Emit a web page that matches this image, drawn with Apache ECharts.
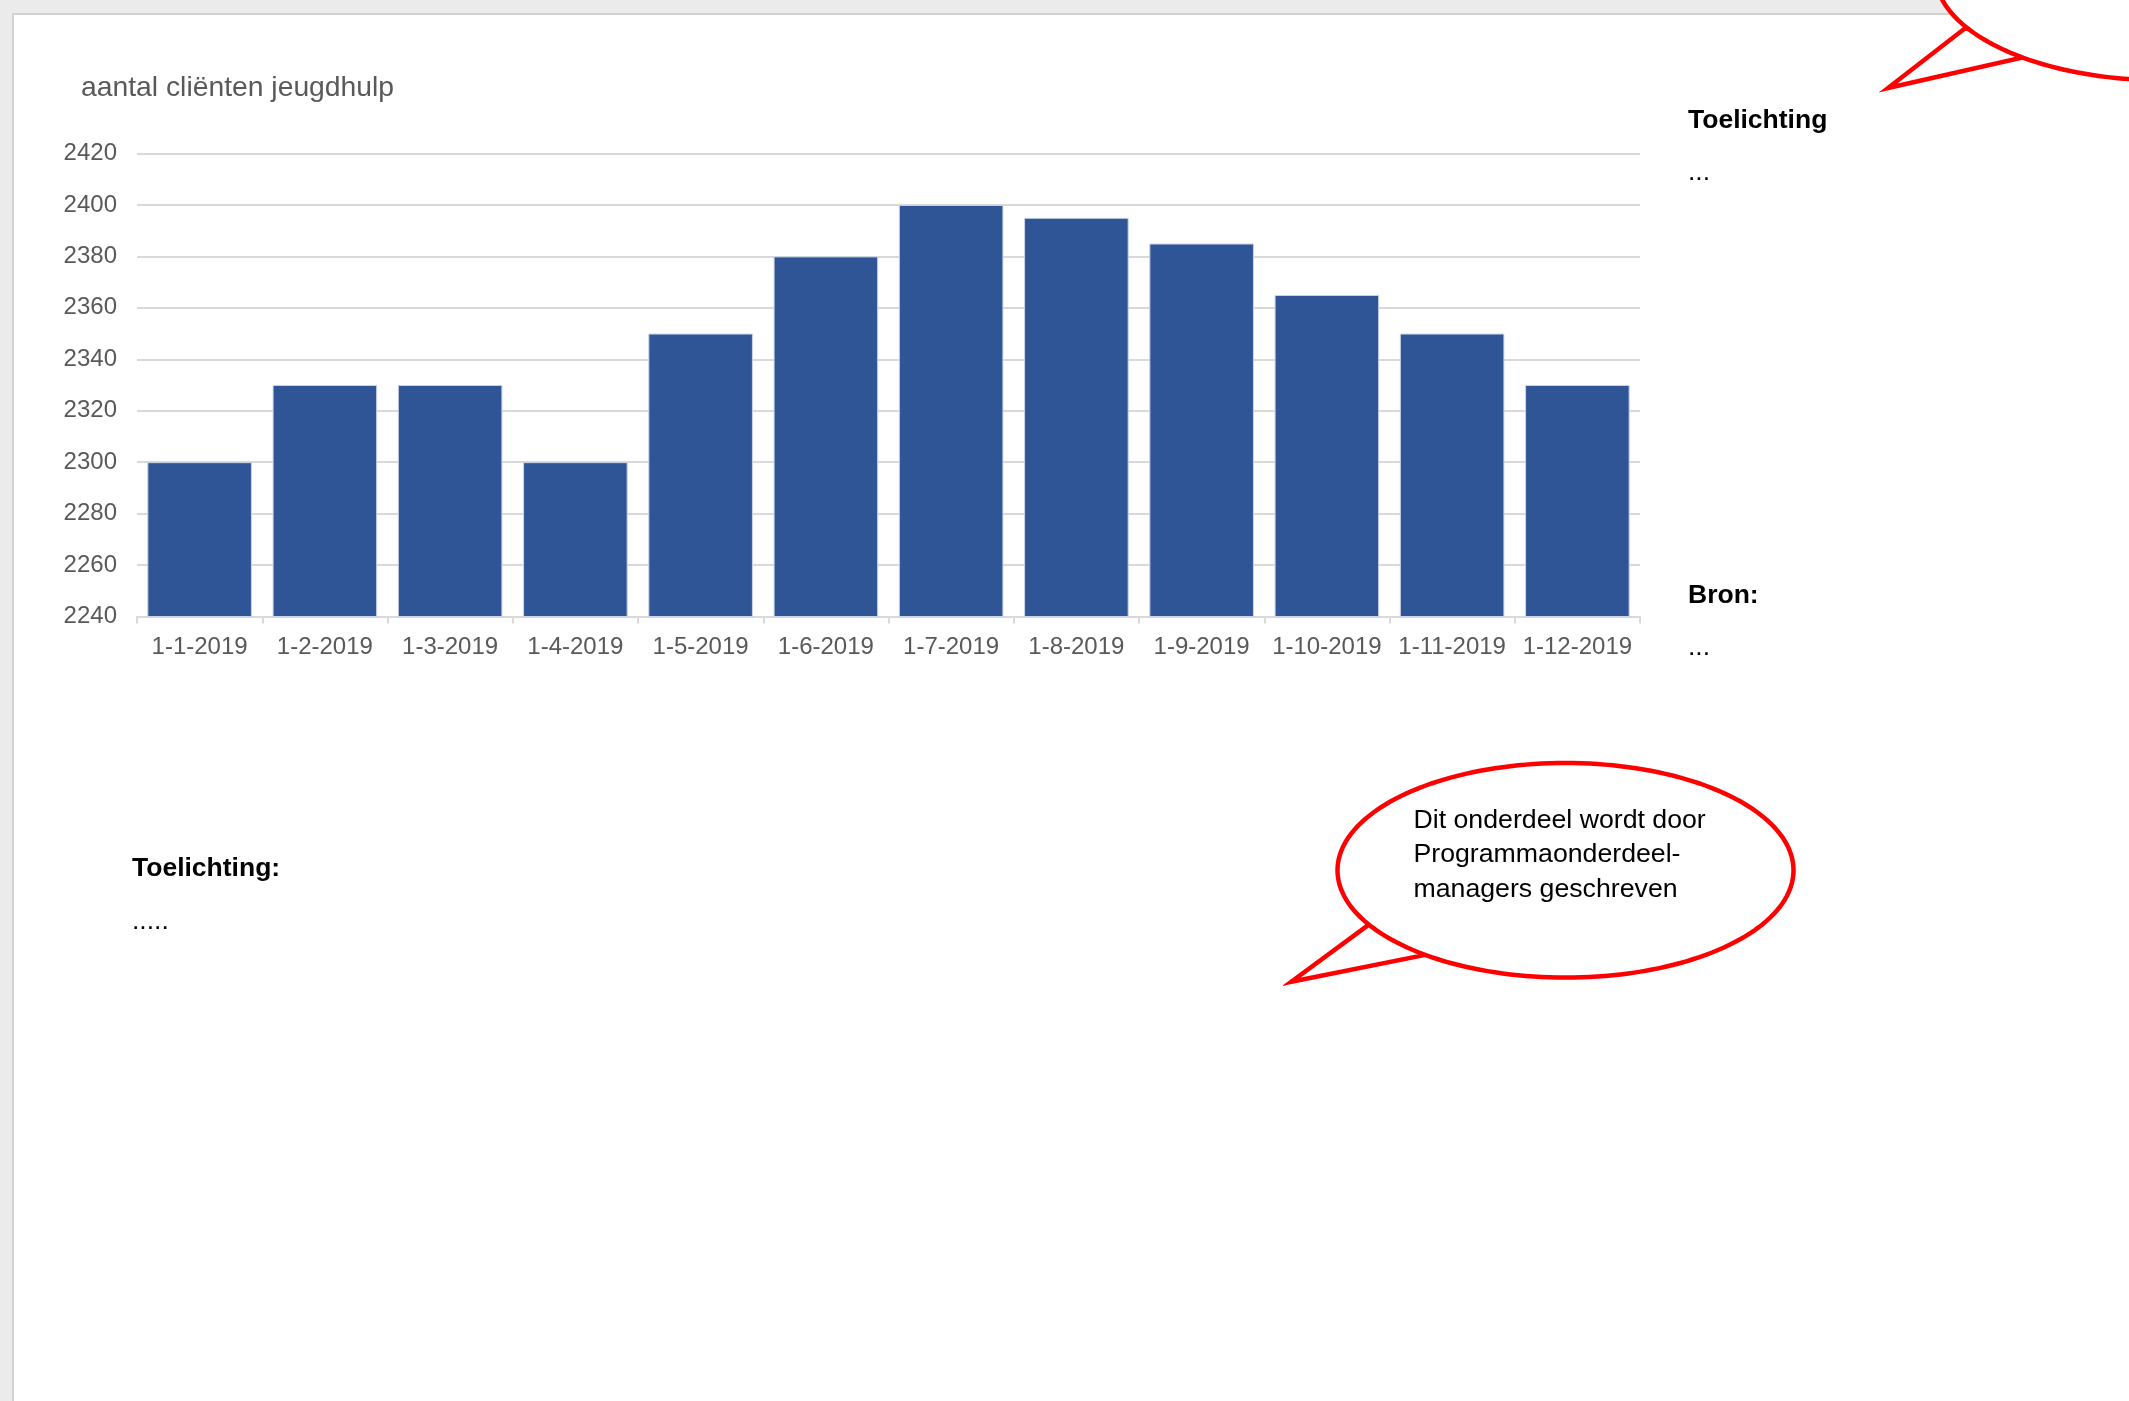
<!DOCTYPE html>
<html>
<head>
<meta charset="utf-8">
<title>aantal cliënten jeugdhulp</title>
<script src="https://cdn.jsdelivr.net/npm/echarts@6/dist/echarts.min.js"></script>
<style>
  html, body { margin: 0; padding: 0; background: #ebebeb; overflow: hidden; }
  #chart { width: 2129px; height: 1401px; }
</style>
</head>
<body>
<div id="chart"></div>
<script>
const categories = ["1-1-2019", "1-2-2019", "1-3-2019", "1-4-2019", "1-5-2019", "1-6-2019",
  "1-7-2019", "1-8-2019", "1-9-2019", "1-10-2019", "1-11-2019", "1-12-2019"];
const clientCounts = [2300, 2330, 2330, 2300, 2350, 2380, 2400, 2395, 2385, 2365, 2350, 2330];
const yTicks = [2240, 2260, 2280, 2300, 2320, 2340, 2360, 2380, 2400, 2420];

const FONT = "Arial, 'Liberation Sans', sans-serif";

// speech bubble outline: ellipse with a pointed tail, as one polygon
function bubblePoints(cx, cy, rx, ry, tStart, tEnd, tip) {
  const pts = [];
  const step = 2;
  for (let d = tEnd; d <= tStart + 360; d += step) {
    const t = (d * Math.PI) / 180;
    pts.push([cx + rx * Math.cos(t), cy + ry * Math.sin(t)]);
  }
  const ts = (tStart * Math.PI) / 180;
  pts.push([cx + rx * Math.cos(ts), cy + ry * Math.sin(ts)]);
  pts.push(tip);
  return pts;
}

const chart = echarts.init(document.getElementById("chart"));

const bubbleStyle = { fill: "#ffffff", stroke: "#ff0000", lineWidth: 4.5, lineJoin: "miter" };

const option = {
  backgroundColor: "transparent",
  animation: false,
  title: {
    text: "aantal cliënten jeugdhulp",
    left: 81,
    top: 74,
    padding: 0,
    textStyle: { color: "#595959", fontSize: 28.3, fontWeight: "normal", fontFamily: FONT },
  },
  grid: { left: 137, right: 489, top: 153.5, bottom: 784.5, containLabel: false },
  xAxis: {
    type: "category",
    data: categories,
    axisLine: { lineStyle: { color: "#d9d9d9", width: 2 } },
    axisTick: { show: true, length: 7, lineStyle: { color: "#d9d9d9", width: 2 } },
    axisLabel: { color: "#595959", fontSize: 24, fontFamily: FONT, margin: 19, interval: 0 },
  },
  yAxis: {
    type: "value",
    min: yTicks[0],
    max: yTicks[yTicks.length - 1],
    interval: 20,
    axisLine: { show: false },
    axisTick: { show: false },
    axisLabel: {
      color: "#595959",
      fontSize: 24,
      fontFamily: FONT,
      margin: 20,
      formatter: (value) => String(value),
    },
    splitLine: { lineStyle: { color: "#d9d9d9", width: 2 } },
  },
  series: [
    {
      name: "aantal cliënten jeugdhulp",
      type: "bar",
      data: clientCounts,
      barCategoryGap: "16.5%",
      itemStyle: { color: "#2f5597", borderColor: "#c9d3e6", borderWidth: 1 },
      z: 3,
    },
  ],
  graphic: [
    {
      type: "rect",
      z: -10,
      shape: { x: 13, y: 14, width: 2200, height: 1500 },
      style: { fill: "#ffffff", stroke: "#d2d2d2", lineWidth: 2 },
    },
    {
      type: "text", x: 1688, y: 121,
      style: { text: "Toelichting", font: "bold 26.5px " + FONT, fill: "#000", textVerticalAlign: "middle" },
    },
    {
      type: "text", x: 1688, y: 173,
      style: { text: "...", font: "26.5px " + FONT, fill: "#000", textVerticalAlign: "middle" },
    },
    {
      type: "text", x: 1688, y: 596,
      style: { text: "Bron:", font: "bold 26.5px " + FONT, fill: "#000", textVerticalAlign: "middle" },
    },
    {
      type: "text", x: 1688, y: 648,
      style: { text: "...", font: "26.5px " + FONT, fill: "#000", textVerticalAlign: "middle" },
    },
    {
      type: "text", x: 132, y: 869,
      style: { text: "Toelichting:", font: "bold 26.5px " + FONT, fill: "#000", textVerticalAlign: "middle" },
    },
    {
      type: "text", x: 132, y: 922,
      style: { text: ".....", font: "26.5px " + FONT, fill: "#000", textVerticalAlign: "middle" },
    },
    {
      type: "polygon",
      z: 20,
      shape: { points: bubblePoints(1565.5, 870.3, 228, 107.3, 149.6, 128, [1291.3, 981.7]) },
      style: bubbleStyle,
    },
    {
      type: "text", x: 1413.5, y: 820, z: 21,
      style: {
        text: "Dit onderdeel wordt door\nProgrammaonderdeel-\nmanagers geschreven",
        font: "26.7px " + FONT, fill: "#000", lineHeight: 34.6, textVerticalAlign: "top",
        y: -17,
      },
    },
    {
      type: "polygon",
      z: 20,
      shape: { points: bubblePoints(2163, -27, 228, 107.3, 149.6, 128, [1888, 88]) },
      style: bubbleStyle,
    },
  ],
};

chart.setOption(option);
</script>
</body>
</html>
